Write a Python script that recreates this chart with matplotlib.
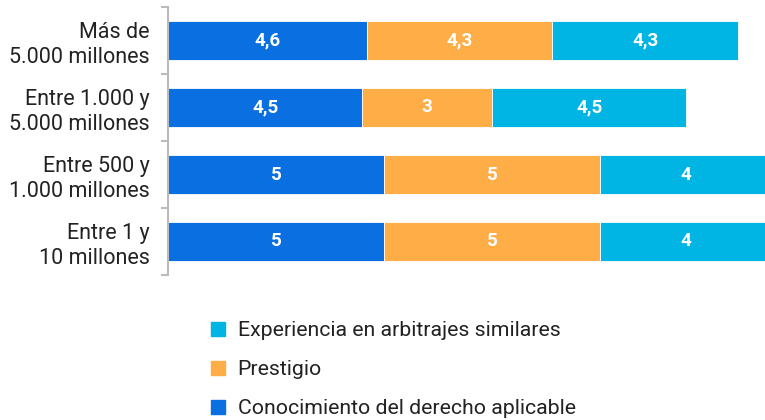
import numpy as np
import matplotlib.pyplot as plt
from matplotlib.patches import Patch

plt.rcParams['font.family'] = ['Roboto', 'DejaVu Sans']

categories = ['Más de\n5.000 millones', 'Entre 1.000 y\n5.000 millones',
              'Entre 500 y\n1.000 millones', 'Entre 1 y\n10 millones']
derecho = [4.6, 4.5, 5, 5]
prestigio = [4.3, 3, 5, 5]
experiencia = [4.3, 4.5, 4, 4]
series_names = ['Conocimiento del derecho aplicable', 'Prestigio',
                'Experiencia en arbitrajes similares']
colors = ['#0a6fe0', '#ffad47', '#00b4e4']

fig = plt.figure(figsize=(7.65, 4.2), dpi=100)
ax = fig.add_axes([168/765, 1 - 275/420, 1 - 168/765, 268/420])

y = np.arange(len(categories))
left = np.zeros(len(categories))
for vals, col in zip([derecho, prestigio, experiencia], colors):
    vals = np.array(vals, dtype=float)
    ax.barh(y, vals, left=left, height=0.58, color=col, edgecolor='white', linewidth=0.6)
    for yi, l, v in zip(y, left, vals):
        txt = f'{v:g}'.replace('.', ',')
        ax.text(l + v / 2, yi, txt, ha='center', va='center', color='white',
                fontsize=13.5, fontweight='bold')
    left += vals

ax.set_xlim(0, 13.82)
ax.set_ylim(3.5, -0.5)
ax.set_yticks(y)
ax.set_yticklabels(categories, fontsize=15.5, color='#222222', linespacing=1.25)
ax.set_yticks(np.arange(-0.5, 4, 1), minor=True)
ax.tick_params(axis='y', which='major', length=0, pad=13)
ax.tick_params(axis='y', which='minor', length=5, width=1.5, color='#bbbbbb')
ax.set_xticks([])
for s in ['top', 'right', 'bottom']:
    ax.spines[s].set_visible(False)
ax.spines['left'].set_color('#bbbbbb')
ax.spines['left'].set_linewidth(1.5)

handles = [Patch(color=c) for c in colors[::-1]]
fig.legend(handles, series_names[::-1], loc='upper left',
           bbox_to_anchor=(192/765, 1 - 302/420), frameon=False, fontsize=15.3,
           handlelength=0.65, handleheight=0.65, handletextpad=0.6, labelspacing=0.95,
           labelcolor='#222222')

fig.savefig('out.png', dpi=100)
